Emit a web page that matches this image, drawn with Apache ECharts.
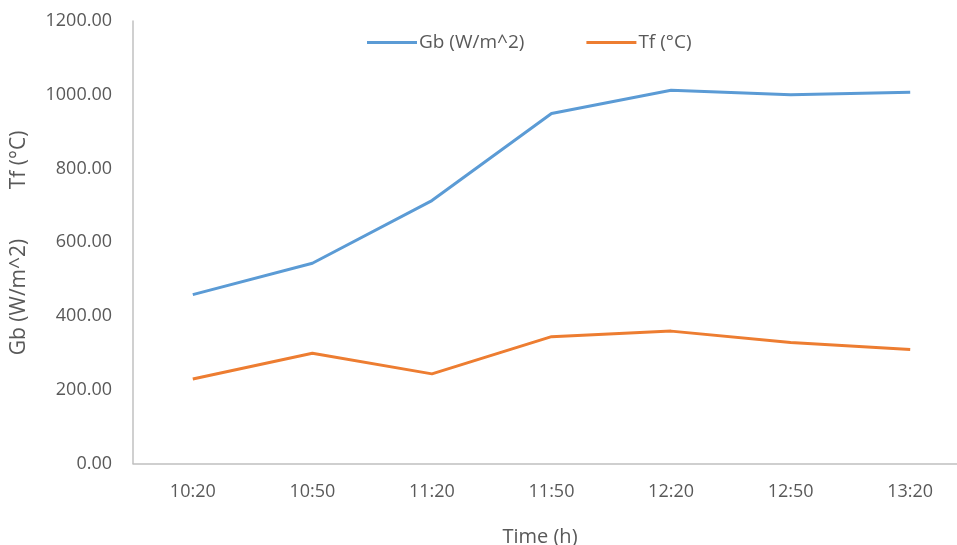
<!DOCTYPE html>
<html><head><meta charset="utf-8">
<script src="https://cdn.jsdelivr.net/npm/echarts@6/dist/echarts.min.js"></script>
<style>html,body{margin:0;padding:0;background:#fff}#c{width:957px;height:545px}</style>
</head><body><div id="c"></div>
<script>
const categories = ['10:20','10:50','11:20','11:50','12:20','12:50','13:20'];
const gbValues = [458, 543, 713, 949, 1012, 1000, 1007];
const tfValues = [229, 299, 243, 344, 359, 328, 309];
const yTicks = [0, 200, 400, 600, 800, 1000, 1200];
const seriesNames = ['Gb (W/m^2)', 'Tf (°C)'];
const xTitle = 'Time (h)';

const FONT = 'Open Sans';
const chart = echarts.init(document.getElementById('c'));
chart.setOption({
  animation: false,
  textStyle: {fontFamily: FONT},
  legend: {
    left: 362, top: 28, itemWidth: 50, itemHeight: 3, itemGap: 62,
    icon: 'rect',
    textStyle: {fontFamily: FONT, fontSize: 19, color: '#595959', padding: [0,0,0,-3]},
    data: seriesNames
  },
  grid: {left: 133, right: -13, top: 21, bottom: 81.5, containLabel: false, outerBoundsMode: 'none'},
  xAxis: {
    type: 'category', data: categories, boundaryGap: true,
    axisLine: {lineStyle: {color: '#c0c0c0', width: 1.5}},
    axisTick: {show: false},
    axisLabel: {fontFamily: FONT, fontSize: 18, color: '#595959', margin: 19}
  },
  yAxis: {
    type: 'value', min: yTicks[0], max: yTicks[yTicks.length-1], interval: 200,
    axisLine: {show: true, lineStyle: {color: '#c0c0c0', width: 1.5}},
    axisTick: {show: false},
    splitLine: {show: false},
    axisLabel: {fontFamily: FONT, fontSize: 18, color: '#595959', margin: 21,
      formatter: v => v.toFixed(2)}
  },
  graphic: [
    {type: 'text', x: 9, y: 297, rotation: Math.PI/2,
      style: {text: seriesNames[0], font: '21px "Open Sans"', fill: '#595959', align: 'center', verticalAlign: 'top'}},
    {type: 'text', x: 9, y: 160, rotation: Math.PI/2,
      style: {text: seriesNames[1], font: '21px "Open Sans"', fill: '#595959', align: 'center', verticalAlign: 'top'}},
    {type: 'text', x: 540, y: 537,
      style: {text: xTitle, font: '20px "Open Sans"', fill: '#595959', align: 'center', verticalAlign: 'middle'}}
  ],
  series: [
    {name: seriesNames[0], type: 'line', data: gbValues, symbol: 'none',
      lineStyle: {color: '#5B9BD5', width: 3}, itemStyle: {color: '#5B9BD5'}},
    {name: seriesNames[1], type: 'line', data: tfValues, symbol: 'none',
      lineStyle: {color: '#ED7D31', width: 3}, itemStyle: {color: '#ED7D31'}}
  ]
});
</script></body></html>
